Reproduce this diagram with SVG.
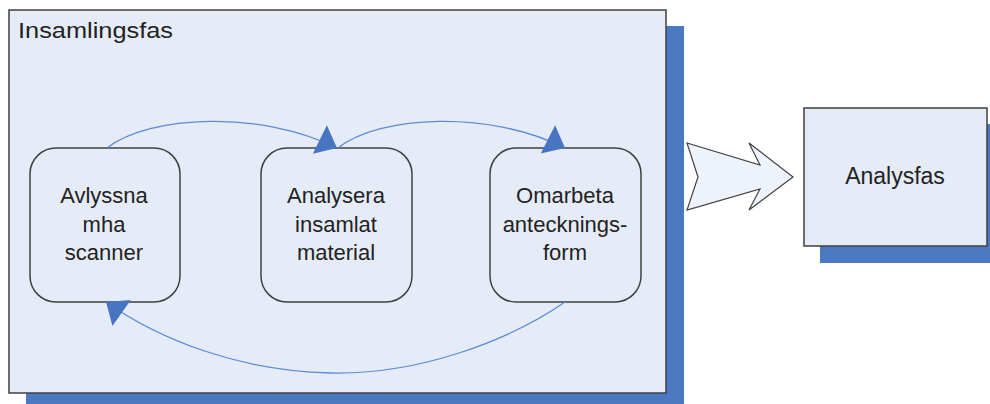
<svg xmlns="http://www.w3.org/2000/svg" width="990" height="404" viewBox="0 0 990 404">
<style>
.t{font-family:"Liberation Sans",Arial,sans-serif;fill:#222;font-size:22px}
.c{text-anchor:middle}
.node{fill:#e6ecf7;stroke:#404040;stroke-width:1.5}
.shadow{fill:#4a78c1}
.frame{fill:#e6ecf7;stroke:#404040;stroke-width:1.5}
.conn{fill:none;stroke:#5b8bd8;stroke-width:1.3}
</style>
<defs>
<marker id="ah" markerUnits="userSpaceOnUse" markerWidth="20" markerHeight="34" viewBox="0 -16 18 32" refX="18" refY="0" orient="auto">
<path d="M0,-15 L18,0 L0,15 z" fill="#4775c2"/>
</marker>
</defs>
<rect width="990" height="404" fill="#ffffff"/>
<g id="insamlingsfas">
<rect class="shadow" x="26" y="26" width="658" height="378"/>
<rect class="frame" x="9" y="10" width="657" height="383"/>
<text class="t" x="18" y="38" textLength="155" lengthAdjust="spacingAndGlyphs">Insamlingsfas</text>
</g>
<g id="avlyssna">
<rect class="node" x="30" y="148" width="150" height="154" rx="26"/>
<text class="t c" x="104" y="203">Avlyssna</text>
<text class="t c" x="104" y="231.5">mha</text>
<text class="t c" x="104" y="260">scanner</text>
</g>
<g id="analysera">
<rect class="node" x="261" y="148" width="151" height="154" rx="26"/>
<text class="t c" x="336" y="203">Analysera</text>
<text class="t c" x="336" y="231.5">insamlat</text>
<text class="t c" x="336" y="260">material</text>
</g>
<g id="omarbeta">
<rect class="node" x="490" y="148" width="151" height="154" rx="26"/>
<text class="t c" x="565" y="203">Omarbeta</text>
<text class="t c" x="565" y="231.5">antecknings-</text>
<text class="t c" x="565" y="260">form</text>
</g>
<g id="pil">
<polygon points="687,143 760,165 749,143 793,177 749,210 760,189 687,210 698,177" fill="#eef2fa" stroke="#404040" stroke-width="1.2" stroke-linejoin="miter"/>
</g>
<g id="analysfas">
<rect class="shadow" x="820" y="124" width="170" height="139"/>
<rect class="frame" x="804" y="108" width="183" height="138"/>
<text class="t c" x="895" y="184" style="font-size:23px">Analysfas</text>
</g>
<g id="connectors">
<path class="conn" d="M107,148 C150,115 260,110 337,148" marker-end="url(#ah)"/>
<path class="conn" d="M338,148 C380,115 490,110 565,148" marker-end="url(#ah)"/>
<path class="conn" d="M565,302 C510,340 420,375 330,373 C240,371 160,340 106,302" marker-end="url(#ah)"/>
</g>
</svg>
